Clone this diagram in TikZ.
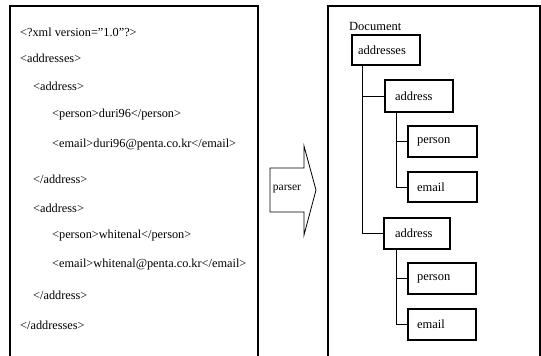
\documentclass[tikz,border=0pt]{standalone}
\usepackage{fontspec}
\setmainfont{Liberation Serif}
\begin{document}
\begin{tikzpicture}[x=1pt,y=-1pt,
  frame/.style={line width=1.5pt},
  code/.style={anchor=west, inner sep=0pt, font=\fontsize{12.3}{14}\selectfont},
  tbox/.style={draw, line width=1.2pt, minimum height=31pt, inner ysep=0pt,
    inner xsep=9pt, text width=50pt, align=left, font=\fontsize{12.5}{14}\selectfont},
  conn/.style={line width=1pt},
  arrowshape/.style={line width=0.8pt}]
\useasboundingbox (0,0) rectangle (541,356);
\fill[white] (0,0) rectangle (541,356);
% frames
\draw[frame] (10,360) -- (10,6) -- (258,6) -- (258,360);
\draw[frame] (328,360) -- (328,6) -- (540,6) -- (540,360);
% XML text
\node[code] (l1) at (20,32) {<?xml version=”1.0”?>};
\node[code] (l2) at (20,58) {<addresses>};
\node[code] (l3) at (33,86) {<address>};
\node[code] (l4) at (52,115) {<person>duri96</person>};
\node[code] (l5) at (52,145) {<email>duri96@penta.co.kr</email>};
\node[code] (l6) at (33,179) {</address>};
\node[code] (l7) at (33,208) {<address>};
\node[code] (l8) at (52,236) {<person>whitenal</person>};
\node[code] (l9) at (52,265) {<email>whitenal@penta.co.kr</email>};
\node[code] (l10) at (33,295) {</address>};
\node[code] (l11) at (20,325) {</addresses>};
% parser arrow
\draw[arrowshape] (270,168) -- (304,168) -- (304,146) -- (316,190) -- (304,235) -- (304,212) -- (270,212) -- cycle;
\node[inner sep=0pt, font=\fontsize{11.5}{13}\selectfont] (parser) at (287,189) {parser};
% tree
\node[anchor=west, inner sep=0pt, font=\fontsize{12.5}{14}\selectfont] (doc) at (349,26) {Document};
\node[tbox, minimum height=30pt, inner xsep=6pt, text width=56pt] (addresses) at (386,50) {addresses};
\node[tbox, minimum height=32pt, inner xsep=10pt, text width=48pt] (addr1) at (419,96) {address};
\node[tbox, text width=51pt] (person1) at (442.5,141.5) {person};
\node[tbox, minimum height=30pt, text width=51pt] (email1) at (442.5,187) {email};
\node[tbox, inner xsep=11pt, text width=44pt] (addr2) at (417,233.5) {address};
\node[tbox] (person2) at (442,278.5) {person};
\node[tbox] (email2) at (442,324.5) {email};
\coordinate (t0) at ([xshift=11pt]addresses.south west);
\coordinate (t1) at ([xshift=12pt]addr1.south west);
\coordinate (t2) at ([xshift=13pt]addr2.south west);
\draw[conn] (t0) |- (addr2.west);
\draw[conn] (addr1.west) -- (addr1.west -| t0);
\draw[conn] (t1) |- (email1.west);
\draw[conn] (person1.west) -- (person1.west -| t1);
\draw[conn] (t2) |- (email2.west);
\draw[conn] (person2.west) -- (person2.west -| t2);
\end{tikzpicture}
\end{document}
